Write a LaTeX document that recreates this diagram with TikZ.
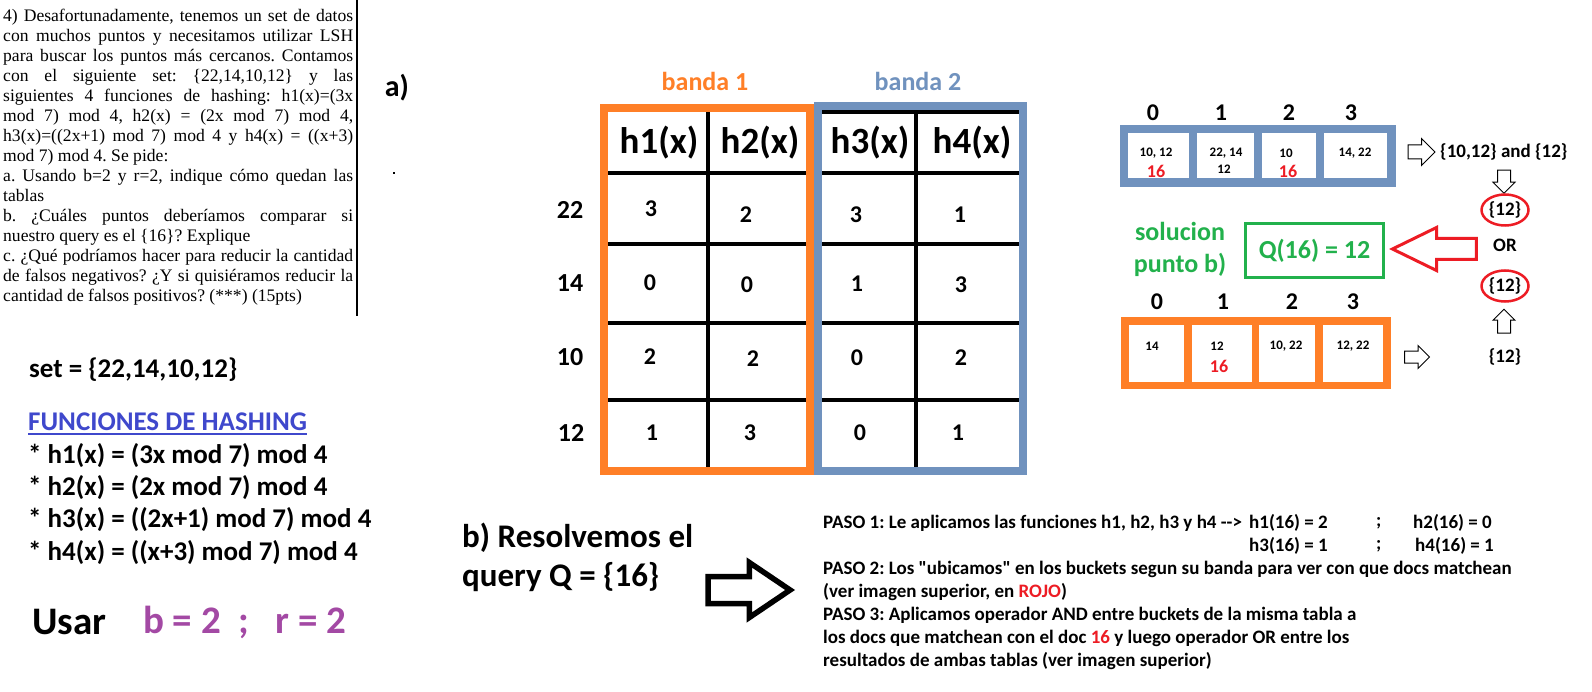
\documentclass[tikz,border=0pt]{standalone}
\usepackage{fontspec}
\setmainfont{Carlito}[Ligatures=TeXOff]
\newfontfamily\qfont{Liberation Serif}
\usetikzlibrary{shapes.geometric,shapes.arrows}
\definecolor{lsorange}{HTML}{FF7F27}
\definecolor{lsblue}{HTML}{7092BE}
\definecolor{lsred}{HTML}{ED1C24}
\definecolor{lsgreen}{HTML}{22B14C}
\definecolor{lspurple}{HTML}{A349A4}
\definecolor{lsindigo}{HTML}{3F48CC}
\newcommand{\fsz}[1]{\fontsize{#1pt}{#1pt}\selectfont\bfseries}
\tikzset{
  ls text/.style={inner sep=0pt, text=black},
  ls head/.style={ls text, font=\fsz{37}},
  ls val/.style={ls text, font=\fsz{24}},
  ls row/.style={ls text, font=\fsz{26}},
  ls grid/.style={draw=black, line width=4.4pt},
  ls band/.style={line width=8pt},
  ls idx/.style={ls text, font=\fsz{24}},
  ls cell/.style={fill=white, draw=none, inner sep=0pt, minimum height=45pt},
  ls small/.style={ls text, font=\fsz{13}},
  ls hit/.style={ls text, font=\fsz{18}, text=lsred},
  ls left/.style={ls text, anchor=west, font=\fsz{27}},
  ls stepline/.style={ls text, anchor=west, font=\fsz{19}},
  ls hollow/.style={single arrow, draw=black, fill=white, line width=1pt,
    single arrow tip angle=90},
  ls ring/.style={ellipse, draw=lsred, line width=2.5pt, inner sep=0pt,
    minimum width=47pt, minimum height=31pt, font=\fsz{19}}
}

\begin{document}
\frenchspacing
\begin{tikzpicture}[x=1pt, y=-1pt]
  \useasboundingbox[fill=white] (0,0) rectangle (1592,692);

  % enunciado
  \node[anchor=north west, inner sep=0pt, text width=350pt, align=justify,
    font=\qfont\fontsize{17.6pt}{20pt}\selectfont] (enun) at (3,9)
    {\parindent=0pt 4)~Desafortunadamente, tenemos un set de datos\linebreak
     con muchos puntos y necesitamos utilizar LSH\linebreak
     para buscar los puntos más cercanos. Contamos\linebreak
     con el siguiente set: \{22,14,10,12\} y las\linebreak
     siguientes 4 funciones de hashing: h1(x)=(3x\linebreak
     mod 7) mod 4, h2(x) = (2x mod 7) mod 4,\linebreak
     h3(x)=((2x+1) mod 7) mod 4 y h4(x) = ((x+3)\linebreak
     mod 7) mod 4. Se pide:\par
     a. Usando b=2 y r=2, indique cómo quedan las\linebreak
     tablas\par
     b. ¿Cuáles puntos deberíamos comparar si\linebreak
     nuestro query es el \{16\}? Explique\par
     c. ¿Qué podríamos hacer para reducir la cantidad\linebreak
     de falsos negativos? ¿Y si quisiéramos reducir la\linebreak
     cantidad de falsos positivos? (***) (15pts)};
  \draw[line width=1.2pt] (357,0) -- (357,316);

  % datos y funciones
  \node[ls left] (conj) at (29,370) {set = \{22,14,10,12\}};
  \node[ls left, text=lsindigo] (titfun) at (28,422) {FUNCIONES DE HASHING};
  \draw[lsindigo, line width=1.6pt] ([yshift=-3pt]titfun.south west) -- ([yshift=-3pt]titfun.south east);
  \node[ls left] (fh1) at (28,456) {* h1(x) = (3x mod 7) mod 4};
  \node[ls left] (fh2) at (28,488) {* h2(x) = (2x mod 7) mod 4};
  \node[ls left] (fh3) at (28,520) {* h3(x) = ((2x+1) mod 7) mod 4};
  \node[ls left] (fh4) at (28,553) {* h4(x) = ((x+3) mod 7) mod 4};
  \node[ls left, font=\fsz{39}] (usar) at (32,622) {Usar};
  \node[ls left, font=\fsz{39}, text=lspurple] (params) at (143,622) {b = 2\ \ ;\ \ \ r = 2};

  % a) tabla de bandas
  \node[ls text, font=\fsz{30}] (parta) at (397,88) {a)};
  \fill (393,172) rectangle (395,174);
  \node[ls text, font=\fsz{26}, text=lsorange] (band1) at (705,81) {banda 1};
  \node[ls text, font=\fsz{26}, text=lsblue] (band2) at (918,81) {banda 2};
  \draw[ls grid] (708,108) -- (708,471);
  \draw[ls grid] (916,110) -- (916,471);
  \draw[ls grid] (818,112) -- (1023,112);
  \draw[ls grid] (604,173) -- (1023,173);
  \draw[ls grid] (604,244) -- (1023,244);
  \draw[ls grid] (604,323) -- (1023,323);
  \draw[ls grid] (604,400) -- (1023,400);
  \draw[ls band, draw=lsorange] (604,108) rectangle (810,471);
  \draw[ls band, draw=lsblue] (818,106) rectangle (1023,471);
  \node[ls head] (ch1) at (659,143) {h1(x)};
  \node[ls head] (ch2) at (760,143) {h2(x)};
  \node[ls head] (ch3) at (870,143) {h3(x)};
  \node[ls head] (ch4) at (972,143) {h4(x)};
  \node[ls row] (r22) at (570,210) {22};
  \node[ls row] (r14) at (570,283) {14};
  \node[ls row] (r10) at (570,357) {10};
  \node[ls row] (r12) at (571,433) {12};
  \node[ls val] (v11) at (651,209) {3};
  \node[ls val] (v12) at (746,215) {2};
  \node[ls val] (v13) at (856,215) {3};
  \node[ls val] (v14) at (960,215) {1};
  \node[ls val] (v21) at (650,283) {0};
  \node[ls val] (v22) at (747,285) {0};
  \node[ls val] (v23) at (857,284) {1};
  \node[ls val] (v24) at (961,285) {3};
  \node[ls val] (v31) at (650,357) {2};
  \node[ls val] (v32) at (753,359) {2};
  \node[ls val] (v33) at (857,358) {0};
  \node[ls val] (v34) at (961,358) {2};
  \node[ls val] (v41) at (652,433) {1};
  \node[ls val] (v42) at (750,433) {3};
  \node[ls val] (v43) at (860,433) {0};
  \node[ls val] (v44) at (958,433) {1};

  % buckets banda 2
  \node[ls idx] (ia0) at (1153,113) {0};
  \node[ls idx] (ia1) at (1221,113) {1};
  \node[ls idx] (ia2) at (1289,113) {2};
  \node[ls idx] (ia3) at (1351,113) {3};
  \fill[lsblue] (1120,125) rectangle (1396,187);
  \node[ls cell, minimum width=61pt] (ba0) at (1158.5,155.5) {};
  \node[ls cell, minimum width=57pt] (ba1) at (1225.5,155.5) {};
  \node[ls cell, minimum width=54pt] (ba2) at (1289,155.5) {};
  \node[ls cell, minimum width=63pt] (ba3) at (1355.5,155.5) {};
  \node[ls small] (ta0) at (1156,153) {10, 12};
  \node[ls hit] (qa0) at (1156,171) {16};
  \node[ls small] (ta1) at (1226,153) {22, 14};
  \node[ls small] (ua1) at (1224,169) {12};
  \node[ls small] (ta2) at (1286,153) {10};
  \node[ls hit] (qa2) at (1288,171) {16};
  \node[ls small] (ta3) at (1355,153) {14, 22};
  \node[ls hollow, inner sep=6.5pt, minimum height=27pt, minimum width=26pt,
    single arrow head extend=6.5pt] (fa) at (1418,152) {};
  \node[ls text, anchor=west, font=\fsz{19}] (resa) at (1440,152) {\{10,12\} and \{12\}};
  \node[ls hollow, inner sep=6pt, minimum height=23pt, minimum width=21pt,
    single arrow head extend=4.5pt, shape border rotate=270] (fda) at (1504,178.5) {};

  % resultado
  \node[ls ring] (oa) at (1505,210) {\{12\}};
  \node[ls text, font=\fsz{19}] (orop) at (1505,245) {OR};
  \node[ls ring] (ob) at (1505,286) {\{12\}};
  \node[ls hollow, inner sep=6pt, minimum height=24pt, minimum width=21pt,
    single arrow head extend=4.5pt, shape border rotate=90] (fub) at (1504,324.5) {};
  \node[ls text, font=\fsz{19}] (resb) at (1505,357) {\{12\}};
  \node[ls text, text=lsgreen, align=center,
    font=\fontsize{26pt}{32pt}\selectfont\bfseries] (solb) at (1180,249)
    {solucion\\punto b)};
  \node[draw=lsgreen, line width=3pt, minimum width=138pt, minimum height=54pt,
    inner sep=0pt, text=lsgreen, font=\fsz{26}] (qres) at (1314.5,250.5) {Q(16) = 12};
  \node[single arrow, draw=lsred, fill=white, line width=3pt, inner sep=9pt,
    minimum height=84pt, minimum width=40pt, single arrow head extend=11pt,
    single arrow tip angle=52, shape border rotate=180, anchor=tip] (fq) at (1389,249) {};

  % buckets banda 1
  \node[ls idx] (ib0) at (1157,302) {0};
  \node[ls idx] (ib1) at (1223,302) {1};
  \node[ls idx] (ib2) at (1292,302) {2};
  \node[ls idx] (ib3) at (1353,302) {3};
  \fill[lsorange] (1121,317) rectangle (1391,389);
  \node[ls cell, minimum width=55pt, minimum height=57pt] (bb0) at (1156.5,353.5) {};
  \node[ls cell, minimum width=60pt, minimum height=57pt] (bb1) at (1222,353.5) {};
  \node[ls cell, minimum width=56pt, minimum height=57pt] (bb2) at (1287,353.5) {};
  \node[ls cell, minimum width=60pt, minimum height=57pt] (bb3) at (1353,353.5) {};
  \node[ls small] (tb0) at (1152,346) {14};
  \node[ls small] (tb1) at (1217,346) {12};
  \node[ls hit] (qb1) at (1219,366) {16};
  \node[ls small] (tb2) at (1286,346) {10, 22};
  \node[ls small] (tb3) at (1353,346) {12, 22};
  \node[ls hollow, inner sep=5.5pt, minimum height=25pt, minimum width=22pt,
    single arrow head extend=5.5pt] (fb) at (1414,357) {};

  % b) pasos
  \node[ls text, anchor=west, align=left,
    font=\fontsize{33pt}{39pt}\selectfont\bfseries] (partb) at (462,557)
    {b) Resolvemos el\\query Q = \{16\}};
  \node[single arrow, draw=black, fill=white, line width=5.5pt, inner sep=10.75pt,
    minimum height=82pt, minimum width=49.5pt, single arrow head extend=14pt,
    single arrow tip angle=68, anchor=tip] (fpasos) at (795,590) {};
  \node[ls stepline] (p1) at (823,523) {PASO 1: Le aplicamos las funciones h1, h2, h3 y h4 -->};
  \node[ls stepline] (p1a) at (1249,523) {h1(16) = 2};
  \node[ls stepline] (p1b) at (1376,523) {;};
  \node[ls stepline] (p1c) at (1413,523) {h2(16) = 0};
  \node[ls stepline] (p1d) at (1249,546) {h3(16) = 1};
  \node[ls stepline] (p1e) at (1376,546) {;};
  \node[ls stepline] (p1f) at (1415,546) {h4(16) = 1};
  \node[ls stepline] (p2) at (823,569) {PASO 2: Los "ubicamos" en los buckets segun su banda para ver con que docs matchean};
  \node[ls stepline] (p2a) at (823,592) {(ver imagen superior, en \textcolor{lsred}{ROJO})};
  \node[ls stepline] (p3) at (823,615) {PASO 3: Aplicamos operador AND entre buckets de la misma tabla a};
  \node[ls stepline] (p3a) at (823,638) {los docs que matchean con el doc \textcolor{lsred}{16} y luego operador OR entre los};
  \node[ls stepline] (p3b) at (823,661) {resultados de ambas tablas (ver imagen superior)};
\end{tikzpicture}
\end{document}
